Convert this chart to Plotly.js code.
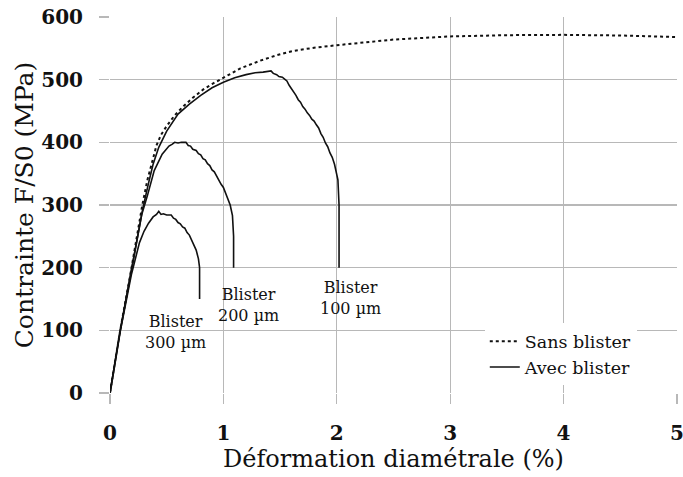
<!DOCTYPE html>
<html>
<head>
<meta charset="utf-8">
<script src="https://cdn.plot.ly/plotly-3.0.1.min.js"></script>
<style>html,body{margin:0;padding:0;background:#fff;}#chart{width:683px;height:477px;}</style>
</head>
<body>
<div id="chart"></div>
<script>
// Sans blister (dotted reference curve)
const sansX = [0, 0.09, 0.19, 0.285, 0.33, 0.37, 0.41, 0.45, 0.50, 0.57, 0.65, 0.73, 0.82, 0.90, 1.00, 1.15, 1.32, 1.47, 1.62, 1.80, 2.00, 2.20, 2.50, 3.00, 3.50, 4.00, 4.50, 5.00];
const sansY = [0, 100, 200, 300, 340, 370, 395, 412, 426, 443, 458, 471, 484, 493, 503.5, 518, 530, 539, 546, 551, 555, 559, 564, 569, 571, 571.5, 570.5, 568];

// Avec blister 100 µm
const b100X = [0, 0.09, 0.19, 0.29, 0.34, 0.38, 0.43, 0.50, 0.60, 0.70, 0.80, 0.90, 1.00, 1.10, 1.20, 1.28, 1.35, 1.42,
  1.44, 1.47, 1.49, 1.52, 1.54, 1.56, 1.58, 1.60, 1.62, 1.64, 1.66, 1.68, 1.70, 1.72, 1.74, 1.76, 1.78, 1.80,
  1.82, 1.84, 1.86, 1.88, 1.90, 1.92, 1.94, 1.96, 1.98, 2.00, 2.01, 2.02, 2.02];
const b100Y = [0, 100, 198, 295, 335, 365, 392, 418, 445, 461, 475, 487, 496, 503, 508, 511, 512, 514,
  510, 508, 505, 504, 501, 498, 491, 486, 479, 475, 468, 464, 457, 453, 447, 443, 437, 434,
  428, 423, 414, 408, 399, 393, 383, 376, 365, 350, 340, 300, 200];

// Avec blister 200 µm
const b200X = [0, 0.09, 0.19, 0.28, 0.33, 0.39, 0.46, 0.52, 0.55, 0.57, 0.60, 0.63, 0.67, 0.69, 0.71, 0.73, 0.76, 0.78,
  0.80, 0.82, 0.84, 0.86, 0.88, 0.90, 0.92, 0.94, 0.96, 0.98, 1.00, 1.02, 1.04, 1.06, 1.08, 1.09, 1.09];
const b200Y = [0, 99, 196, 285, 315, 355, 381, 394, 397, 400, 399, 400, 400, 395, 394, 389, 387, 382,
  380, 374, 372, 366, 363, 356, 353, 346, 341, 333, 328, 319, 311, 300, 283, 250, 200];

// Avec blister 300 µm
const b300X = [0, 0.09, 0.19, 0.26, 0.30, 0.34, 0.38, 0.41, 0.43, 0.45, 0.47, 0.50, 0.54, 0.56, 0.58, 0.60, 0.62, 0.64,
  0.66, 0.68, 0.70, 0.72, 0.74, 0.76, 0.78, 0.79, 0.79];
const b300Y = [0, 98, 190, 240, 258, 271, 281, 285, 290, 285, 286, 284, 284, 279, 277, 272, 270, 265,
  263, 256, 252, 244, 238, 228, 214, 200, 150];

// Labels
const labelText = ["Blister<br>300 µm", "Blister<br>200 µm", "Blister<br>100 µm"];
const labelX = [0.58, 1.22, 2.12];
const labelY = [97, 140, 151];

const xTicks = [0, 1, 2, 3, 4, 5];
const yTicks = [0, 100, 200, 300, 400, 500, 600];

const FONT = "DejaVu Serif";
const ink = "#111111";
const grid = "#b8b8b8";

const traces = [
  {x: sansX, y: sansY, mode: "lines", name: "Sans blister", legendgroup: "sans",
   line: {color: ink, width: 2, dash: "dot"}},
  {x: b100X, y: b100Y, mode: "lines", name: "Avec blister", legendgroup: "avec",
   line: {color: ink, width: 1.6}},
  {x: b200X, y: b200Y, mode: "lines", name: "Avec blister", legendgroup: "avec", showlegend: false,
   line: {color: ink, width: 1.6}},
  {x: b300X, y: b300Y, mode: "lines", name: "Avec blister", legendgroup: "avec", showlegend: false,
   line: {color: ink, width: 1.6}}
];

const annotations = labelText.map((t, i) => ({
  x: labelX[i], y: labelY[i], xref: "x", yref: "y", text: t, showarrow: false,
  font: {family: FONT, size: 16, color: ink}, align: "center"
}));

const layout = {
  width: 683, height: 477,
  margin: {l: 110, r: 6, t: 17, b: 84},
  paper_bgcolor: "#fff", plot_bgcolor: "#fff",
  showlegend: true,
  legend: {x: 0.661, y: 0.185, xanchor: "left", yanchor: "top", bgcolor: "#fff", borderwidth: 0,
    font: {family: FONT, size: 17.5, color: ink}, tracegroupgap: 0},
  xaxis: {range: [0, 5.0005], tickvals: xTicks, ticktext: xTicks.map(String),
    showgrid: true, gridcolor: grid, gridwidth: 1.2, zeroline: false, showline: false,
    ticks: "outside", ticklen: 10, tickcolor: grid, tickwidth: 1.2, ticklabelstandoff: 12,
    ticklabeloverflow: "allow",
    tickfont: {family: FONT, size: 20, weight: "bold", color: ink},
    title: {text: "Déformation diamétrale (%)", font: {family: FONT, size: 24, color: ink}, standoff: 0}},
  yaxis: {range: [0, 600], tickvals: yTicks, ticktext: yTicks.map(String),
    showgrid: true, gridcolor: grid, gridwidth: 1.2, zeroline: false, showline: false,
    ticks: "outside", ticklen: 10, tickcolor: grid, tickwidth: 1.2, ticklabelstandoff: 12,
    ticklabeloverflow: "allow",
    tickfont: {family: FONT, size: 20, weight: "bold", color: ink},
    title: {text: "Contrainte F/S0 (MPa)", font: {family: FONT, size: 25, color: ink}, standoff: 0}},
  annotations: annotations
};

Plotly.newPlot("chart", traces, layout, {displayModeBar: false, staticPlot: true});
</script>
</body>
</html>
